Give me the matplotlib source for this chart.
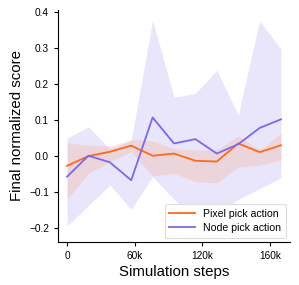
import matplotlib
matplotlib.use("Agg")
import matplotlib.pyplot as plt

plt.rcParams['font.family'] = ['Liberation Sans', 'DejaVu Sans']

steps = [0, 19000, 38000, 57000, 76000, 95000, 114000, 133000, 152000, 171000, 190000]

pixel_mean = [-0.027, 0.0, 0.012, 0.029, 0.001, 0.007, -0.013, -0.015, 0.035, 0.011, 0.030]
pixel_upper = [0.037, 0.030, 0.028, 0.046, 0.042, 0.020, 0.017, 0.017, 0.056, 0.017, 0.063]
pixel_lower = [-0.120, -0.048, -0.016, 0.012, -0.055, -0.048, -0.071, -0.074, -0.030, -0.025, -0.011]

node_mean = [-0.057, 0.001, -0.017, -0.067, 0.107, 0.035, 0.047, 0.007, 0.033, 0.078, 0.102]
node_upper = [0.050, 0.081, 0.020, 0.044, 0.377, 0.163, 0.174, 0.238, 0.114, 0.375, 0.296]
node_lower = [-0.194, -0.137, -0.080, -0.148, -0.057, -0.120, -0.170, -0.160, -0.120, -0.090, -0.060]

xtick_pos = [0, 60000, 120000, 180000]
xtick_labels = ["0", "60k", "120k", "160k"]
yticks = [-0.2, -0.1, 0.0, 0.1, 0.2, 0.3, 0.4]

orange = '#FF6A13'
purple = '#7B68EE'

fig = plt.figure(figsize=(2.99, 2.85), dpi=100)
ax = fig.add_axes([0.194, 0.151, 0.776, 0.814])

ax.fill_between(steps, node_lower, node_upper, color=purple, alpha=0.16, linewidth=0)
ax.fill_between(steps, pixel_lower, pixel_upper, color=orange, alpha=0.14, linewidth=0)
ax.plot(steps, pixel_mean, color=orange, lw=1.3, label='Pixel pick action')
ax.plot(steps, node_mean, color=purple, lw=1.3, label='Node pick action')

ax.set_xlim(-8000, 198000)
ax.set_ylim(-0.238, 0.405)
ax.set_xticks(xtick_pos)
ax.set_xticklabels(xtick_labels)
ax.set_yticks(yticks)
ax.set_yticklabels([f"{v:.1f}".replace('-', '\u2212') for v in yticks])
ax.tick_params(labelsize=7.3, length=3, width=0.8)
ax.spines['top'].set_visible(False)
ax.spines['right'].set_visible(False)
ax.set_xlabel('Simulation steps', fontsize=10.8, labelpad=3)
ax.set_ylabel('Final normalized score', fontsize=10.8, labelpad=4)

leg = ax.legend(loc='lower right', fontsize=7.6, frameon=True, handlelength=2.4,
                borderaxespad=0.4, framealpha=1, borderpad=0.45, labelspacing=0.4)
leg.get_frame().set_edgecolor('#dddddd')
leg.get_frame().set_linewidth(0.8)

fig.savefig('out.png', dpi=100)
